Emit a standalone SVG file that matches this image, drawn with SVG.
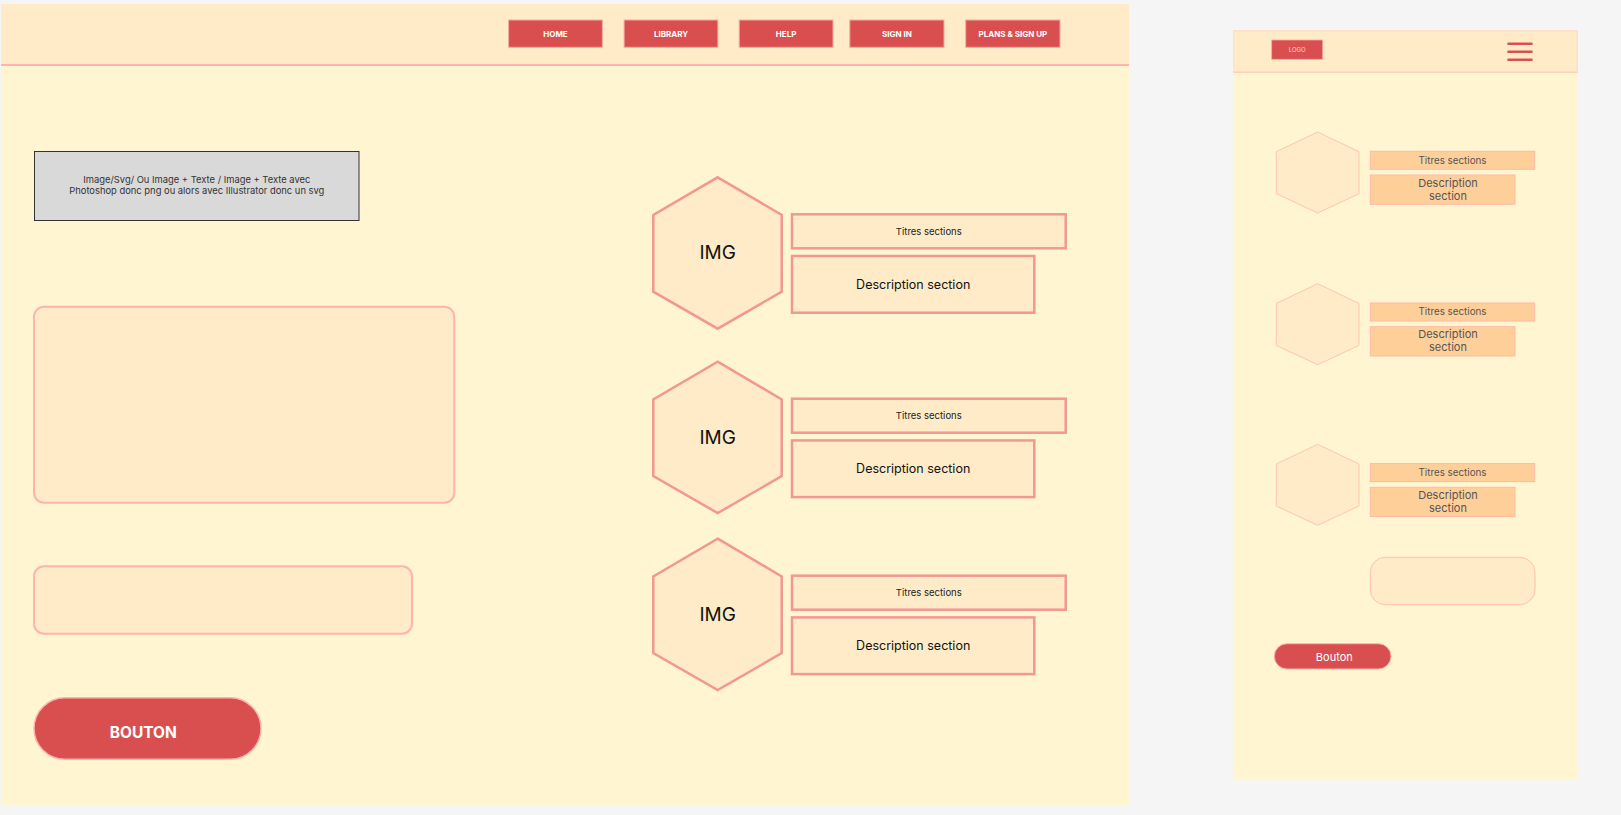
<svg xmlns="http://www.w3.org/2000/svg" width="1621" height="815" viewBox="0 0 1621 815">
<style>
text{font-family:Inter,"Noto Sans","Liberation Sans",sans-serif;text-anchor:middle}
.nav rect{fill:#d94f50;stroke:#f7aaa2;stroke-width:1}
.nav text{fill:#fff;font-size:8px;font-weight:700}
.hex{fill:#ffebc7;stroke:#f29892;stroke-width:2.5}
.box{fill:#ffebc7;stroke:#f29892;stroke-width:2.5}
.ttl{font-size:9.5px;fill:#222}
.dsc{font-size:12.5px;fill:#111}
.img{font-size:19px;fill:#111}
.mhex{fill:#ffebc7;stroke:#ffc4b5;stroke-width:1}
.mbox{fill:#ffcf9a;stroke:#ffb8a8;stroke-width:1}
.mt{font-size:9.8px;fill:#555}
.md{font-size:11px;fill:#555}
</style>
<rect x="0" y="0" width="1621" height="815" fill="#f5f5f5"/>

<g id="desktop">
  <rect x="1" y="4" width="1128" height="801" fill="#fff5d1"/>
  <rect x="1" y="4" width="1128" height="61" fill="#ffebc7"/>
  <line x1="1" y1="65" x2="1129" y2="65" stroke="#ffb3ae" stroke-width="2.2"/>
</g>

<g id="nav" class="nav">
  <g id="nav-home"><rect x="508.6" y="20" width="93.8" height="27.3"/><text x="555.5" y="36.8">HOME</text></g>
  <g id="nav-library"><rect x="624.1" y="20" width="93.8" height="27.3"/><text x="671" y="36.8">LIBRARY</text></g>
  <g id="nav-help"><rect x="739.2" y="20" width="93.8" height="27.3"/><text x="786.1" y="36.8">HELP</text></g>
  <g id="nav-signin"><rect x="849.8" y="20" width="94.2" height="27.3"/><text x="896.9" y="36.8">SIGN IN</text></g>
  <g id="nav-plans"><rect x="965.7" y="20" width="94.3" height="27.3"/><text x="1012.9" y="36.8">PLANS &amp; SIGN UP</text></g>
</g>

<g id="image-box">
  <rect x="34.5" y="151.5" width="324.5" height="69" fill="#d9d9d9" stroke="#333" stroke-width="1"/>
  <text x="196.8" y="182.5" font-size="9.4" fill="#333">Image/Svg/ Ou Image + Texte / Image + Texte avec</text>
  <text x="196.8" y="194.3" font-size="9.4" fill="#333">Photoshop donc png ou alors avec Illustrator donc un svg</text>
</g>

<g id="big-panel"><rect x="34" y="306.7" width="420.3" height="196" rx="10" fill="#ffebc7" stroke="#ffb3ae" stroke-width="2"/></g>
<g id="input-panel"><rect x="34" y="566.3" width="378" height="67.4" rx="10" fill="#ffebc7" stroke="#ffb3ae" stroke-width="2"/></g>
<g id="bouton">
  <rect x="34" y="697.7" width="227" height="61.6" rx="30.8" fill="#d94f50" stroke="#ffb3ae" stroke-width="1.5"/>
  <text x="143.3" y="737.5" font-size="15.5" font-weight="700" fill="#fff">BOUTON</text>
</g>

<g id="section-1">
  <polygon class="hex" points="717.7,177.3 781.7,215 781.7,291.7 717.7,328.7 653.3,291.7 653.3,215"/>
  <text class="img" x="717.7" y="259.3">IMG</text>
  <rect class="box" x="792" y="214.3" width="273.7" height="34"/>
  <text class="ttl" x="928.8" y="234.5">Titres sections</text>
  <rect class="box" x="792" y="256" width="242.3" height="56.7"/>
  <text class="dsc" x="913.2" y="288.8">Description section</text>
</g>
<g id="section-2" transform="translate(0,184.4)">
  <polygon class="hex" points="717.7,177.3 781.7,215 781.7,291.7 717.7,328.7 653.3,291.7 653.3,215"/>
  <text class="img" x="717.7" y="259.3">IMG</text>
  <rect class="box" x="792" y="214.3" width="273.7" height="34"/>
  <text class="ttl" x="928.8" y="234.5">Titres sections</text>
  <rect class="box" x="792" y="256" width="242.3" height="56.7"/>
  <text class="dsc" x="913.2" y="288.8">Description section</text>
</g>
<g id="section-3" transform="translate(0,361.4)">
  <polygon class="hex" points="717.7,177.3 781.7,215 781.7,291.7 717.7,328.7 653.3,291.7 653.3,215"/>
  <text class="img" x="717.7" y="259.3">IMG</text>
  <rect class="box" x="792" y="214.3" width="273.7" height="34"/>
  <text class="ttl" x="928.8" y="234.5">Titres sections</text>
  <rect class="box" x="792" y="256" width="242.3" height="56.7"/>
  <text class="dsc" x="913.2" y="288.8">Description section</text>
</g>

<g id="mobile">
  <rect x="1233.3" y="30.3" width="344.4" height="748.7" fill="#fff5d1"/>
  <rect x="1233.8" y="30.8" width="343.4" height="41.5" fill="#ffebc7" stroke="#ffd6c6" stroke-width="1"/>
  <line x1="1233.3" y1="72.3" x2="1577.7" y2="72.3" stroke="#ffcfc0" stroke-width="1.5"/>
</g>
<g id="m-logo">
  <rect x="1271.7" y="40" width="51" height="19.3" fill="#d94f50" stroke="#f7aaa2" stroke-width="0.8"/>
  <text x="1297.2" y="52" font-size="6" fill="#ffd6cc">LOGO</text>
</g>
<g id="m-menu" stroke="#d94f50" stroke-width="2.6" stroke-linecap="round">
  <line x1="1508.5" y1="43.7" x2="1531.5" y2="43.7"/>
  <line x1="1508.5" y1="51.7" x2="1531.5" y2="51.7"/>
  <line x1="1508.5" y1="59.7" x2="1531.5" y2="59.7"/>
</g>

<g id="m-section-1">
  <polygon class="mhex" points="1317.7,132 1359,151.7 1359,193.7 1317.7,213 1276.3,193.7 1276.3,151.7"/>
  <rect class="mbox" x="1370.3" y="151.3" width="164.4" height="18"/>
  <text class="mt" x="1452.5" y="163.8">Titres sections</text>
  <rect class="mbox" x="1370.3" y="175" width="144.7" height="29.3"/>
  <text class="md" x="1448" y="186.6">Description</text>
  <text class="md" x="1448" y="199.6">section</text>
</g>
<g id="m-section-2" transform="translate(0,151.7)">
  <polygon class="mhex" points="1317.7,132 1359,151.7 1359,193.7 1317.7,213 1276.3,193.7 1276.3,151.7"/>
  <rect class="mbox" x="1370.3" y="151.3" width="164.4" height="18"/>
  <text class="mt" x="1452.5" y="163.8">Titres sections</text>
  <rect class="mbox" x="1370.3" y="175" width="144.7" height="29.3"/>
  <text class="md" x="1448" y="186.6">Description</text>
  <text class="md" x="1448" y="199.6">section</text>
</g>
<g id="m-section-3" transform="translate(0,312.3)">
  <polygon class="mhex" points="1317.7,132 1359,151.7 1359,193.7 1317.7,213 1276.3,193.7 1276.3,151.7"/>
  <rect class="mbox" x="1370.3" y="151.3" width="164.4" height="18"/>
  <text class="mt" x="1452.5" y="163.8">Titres sections</text>
  <rect class="mbox" x="1370.3" y="175" width="144.7" height="29.3"/>
  <text class="md" x="1448" y="186.6">Description</text>
  <text class="md" x="1448" y="199.6">section</text>
</g>
<g id="m-panel"><rect x="1370.3" y="557.3" width="164.7" height="47.4" rx="15" fill="#ffebc7" stroke="#ffc0b0" stroke-width="1"/></g>
<g id="m-bouton">
  <rect x="1274.3" y="643.7" width="116.7" height="25.3" rx="12.65" fill="#d94f50" stroke="#ffb3ae" stroke-width="1"/>
  <text x="1334.3" y="660.5" font-size="11" fill="#fff">Bouton</text>
</g>
<g id="connectors"/>
</svg>
